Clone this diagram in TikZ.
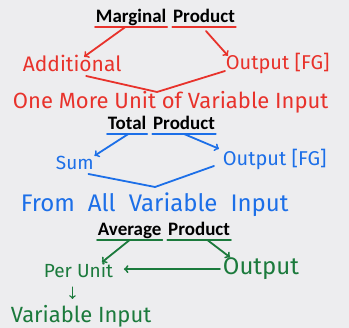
\documentclass[tikz,border=0pt]{standalone}
\usepackage{fontspec}
\setmainfont{Carlito}
\newfontfamily\handfont{Fira Sans}
\usetikzlibrary{arrows}

\definecolor{bgcol}{HTML}{EDEDEF}
\definecolor{penred}{HTML}{E8322B}
\definecolor{penblue}{HTML}{1C6FE8}
\definecolor{pengreen}{HTML}{1B7A3C}

\begin{document}
\begin{tikzpicture}[x=1pt,y=-1pt,>=to,line width=1.8pt,line cap=round,
                    line join=round,
                    hand/.style={inner sep=0pt,anchor=base west,
                                 font=\fontsize{#1}{#1}\selectfont\handfont}]
  \tikzstyle{title}=[inner sep=0pt,anchor=base west,
                     font=\fontsize{19}{19}\selectfont\bfseries,text=black]

  \fill[bgcol] (0,0) rectangle (349,328);
  \useasboundingbox (0,0) rectangle (349,328);

  % marginal product
  \node[title] (mp1) at (95,23) {Marginal};
  \node[title] (mp2) at ([xshift=5pt]mp1.base east) {Product};
  \node[hand=21,text=penred] (add) at (22,72) {Additional};
  \node[hand=20,text=penred] (mpout) at (225,70) {Output [FG]};
  \node[hand=22,text=penred] (more) at (12,109) {One More Unit of Variable Input};
  \coordinate (mpv) at (157,92);

  \begin{scope}[draw=penred]
    \draw ([yshift=-4pt]mp1.base west) -- ([yshift=-4pt]mp1.base east) coordinate[pos=0.42] (mpa);
    \draw ([yshift=-4pt]mp2.base west) -- ([yshift=-4pt]mp2.base east) coordinate[pos=0.53] (mpb);
    \draw[->] (mpa) -- ([xshift=12pt,yshift=-2pt]add.north);
    \draw[->] ([yshift=-4pt]mpb) -- ([xshift=3pt,yshift=-3pt]mpout.north west);
    \draw ([xshift=14pt,yshift=-4pt]add.base) -- (mpv) -- ([yshift=-1pt]mpout.base west);
  \end{scope}

  % total product
  \node[title] (tp1) at (107,130) {Total};
  \node[title] (tp2) at ([xshift=5pt]tp1.base east) {Product};
  \node[hand=19,text=penblue] (sum) at (55,170) {Sum};
  \node[hand=20,text=penblue] (tpout) at (222,166) {Output [FG]};
  \node[hand=24,text=penblue] (all) at (20,212)
    {\spaceskip=13pt plus 2pt From All Variable Input};
  \coordinate (tpv) at (155,187);

  \begin{scope}[draw=penblue]
    \draw ([yshift=-4pt]tp1.base west) -- ([yshift=-4pt]tp1.base east) coordinate[pos=0.53] (tpa);
    \draw ([yshift=-4pt]tp2.base west) -- ([yshift=-4pt]tp2.base east) coordinate[pos=0.5] (tpb);
    \draw[->] (tpa) -- (sum.north east);
    \draw[->] (tpb) -- ([xshift=-3pt]tpout.north west);
    \draw ([xshift=-6pt,yshift=-4pt]sum.base east) -- (tpv) -- ([xshift=-8pt]tpout.base west);
  \end{scope}

  % average product
  \node[title] (ap1) at (97,236) {Average};
  \node[title] (ap2) at ([xshift=5pt]ap1.base east) {Product};
  \node[hand=19,text=pengreen] (unit) at (43,278) {Per Unit};
  \node[hand=24,text=pengreen] (apout) at (222,275) {Output};
  \node[hand=22,text=pengreen] (input) at (10,323) {Variable Input};

  \begin{scope}[draw=pengreen]
    \draw ([yshift=-4pt]ap1.base west) -- ([yshift=-4pt]ap1.base east) coordinate[pos=0.5] (apa);
    \draw ([yshift=-4pt]ap2.base west) -- ([yshift=-4pt]ap2.base east) coordinate[pos=0.63] (apb);
    \draw[->] (apa) -- ([xshift=-12pt]unit.north east);
    \draw[->] (apb) -- ([xshift=8pt]apout.north west);
    \draw[->,shorten >=10pt,shorten <=2pt] (apout.west) -- (apout.west -| unit.east);
    \draw[->,line width=1.4pt,shorten <=8pt,shorten >=6pt]
      ([xshift=-6pt]unit.south) -- ([xshift=-6pt]unit.south |- input.north);
  \end{scope}
\end{tikzpicture}
\end{document}
